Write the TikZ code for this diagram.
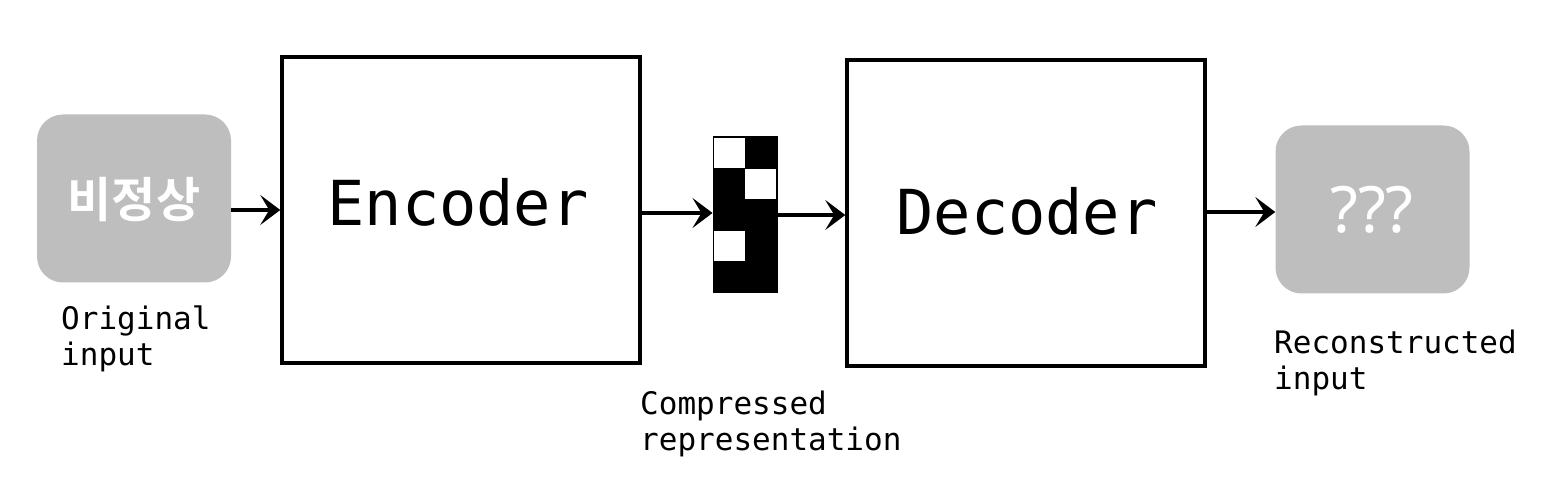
\documentclass[tikz,border=0pt]{standalone}
\usepackage{fontspec}
\setmonofont{DejaVu Sans Mono}
\newfontfamily\krfont{Noto Sans CJK KR Bold}
\newfontfamily\qfont{Noto Sans}
\usetikzlibrary{arrows.meta}
\definecolor{boxgray}{HTML}{BEBEBE}
\begin{document}
\begin{tikzpicture}[x=1pt,y=-1pt,
  bigbox/.style={draw=black, line width=3.5pt, fill=white, minimum width=358pt, minimum height=306pt, inner sep=0pt},
  graybox/.style={fill=boxgray, rounded corners=26pt, minimum width=194pt, minimum height=168pt, inner sep=0pt},
  boxtext/.style={font=\fontsize{62}{70}\selectfont\ttfamily, inner sep=0pt, anchor=base},
  lbl/.style={font=\fontsize{31}{36}\selectfont\ttfamily, inner sep=0pt, anchor=base west, align=left},
  arr/.style={line width=4.5pt, -{Stealth[length=20pt, width=30pt, inset=9pt]}}
]
\useasboundingbox (0,0) rectangle (1547,486);
\fill[white] (0,0) rectangle (1547,486);

% gray boxes
\node[graybox] (inbox) at (134,198.5) {};
\node[text=white, font=\fontsize{48}{54}\selectfont\krfont, inner sep=0pt] (intext) at (134,200) {비정상};
\node[graybox] (outbox) at (1372.5,209.5) {};
\node[text=white, font=\fontsize{64}{70}\selectfont\qfont, inner sep=0pt, anchor=base] (outtext) at (1372,233) {???};

% encoder / decoder
\node[bigbox] (enc) at (461,210) {};
\node[boxtext] (enctext) at (458,226) {Encoder};
\node[bigbox] (dec) at (1026,213) {};
\node[boxtext] (dectext) at (1027,235) {Decoder};

% compressed code
\node[draw=black, line width=1pt, fill=black, minimum width=64pt, minimum height=156pt, inner sep=0pt] (code) at (745,215) {};
\fill[white] (714,138) rectangle (745,168);
\fill[white] (745,169) rectangle (776,199);
\fill[white] (714,231) rectangle (745,261);

% arrows
\draw[arr] (inbox.east |- enc.west) -- (enc.west);
\draw[arr] (enc.east |- 0,213) -- (code.west |- 0,213);
\draw[arr] (code.east) -- (dec.west |- code.east);
\draw[arr] (dec.east |- 0,212) -- (outbox.west |- 0,212);

% labels (anchor = baseline of last line)
\node[lbl] (inlbl) at (61,365) {Original\\input};
\node[lbl] (codelbl) at (640,450) {Compressed\\representation};
\node[lbl] (outlbl) at (1274,389) {Reconstructed\\input};
\end{tikzpicture}
\end{document}
